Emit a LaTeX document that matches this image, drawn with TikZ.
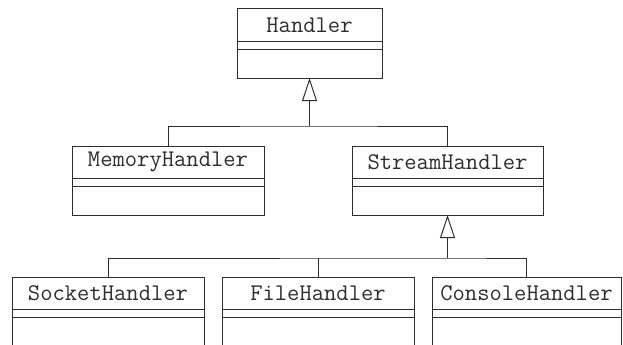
\documentclass[tikz,border=0pt]{standalone}
\usepackage{fontspec}
\usepackage{tikz}
\usetikzlibrary{arrows.meta,positioning}
\definecolor{umlline}{RGB}{45,45,45}

\begin{document}
\begin{tikzpicture}[x=0.03cm,y=-0.03cm,
  line width=0.85pt, draw=umlline,
  cname/.style={draw,anchor=north west,inner sep=0pt,outer sep=0pt,
    minimum height=0.96cm,font=\ttfamily\fontsize{20.4}{22}\selectfont,text=umlline},
  cattr/.style={draw,inner sep=0pt,outer sep=0pt,minimum height=0.24cm,below=0pt of #1},
  cops/.style={draw,inner sep=0pt,outer sep=0pt,minimum height=0.87cm,below=0pt of #1},
  inherit/.style={-{Triangle[open,length=0.69cm,width=0.45cm]}}]
\useasboundingbox (0,0) rectangle (623,345);
\clip (0,0) rectangle (623,345);
%% top
\node[cname,minimum width=4.35cm] (handler) at (237,9) {Handler};
\node[cattr=handler,minimum width=4.35cm] (handler-a) {};
\node[cops=handler-a,minimum width=4.35cm] (handler-o) {};
%% middle row
\node[cname,minimum width=5.76cm] (memory) at (72,146) {MemoryHandler};
\node[cattr=memory,minimum width=5.76cm] (memory-a) {};
\node[cops=memory-a,minimum width=5.76cm] (memory-o) {};
\node[cname,minimum width=5.73cm] (stream) at (352,146) {StreamHandler};
\node[cattr=stream,minimum width=5.73cm] (stream-a) {};
\node[cops=stream-a,minimum width=5.73cm] (stream-o) {};
%% bottom row
\node[cname,minimum width=5.76cm] (socket) at (12,277) {SocketHandler};
\node[cattr=socket,minimum width=5.76cm] (socket-a) {};
\node[cops=socket-a,minimum width=5.76cm] (socket-o) {};
\node[cname,minimum width=5.76cm] (file) at (222,277) {FileHandler};
\node[cattr=file,minimum width=5.76cm] (file-a) {};
\node[cops=file-a,minimum width=5.76cm] (file-o) {};
\node[cname,minimum width=5.67cm] (console) at (432,277) {ConsoleHandler};
\node[cattr=console,minimum width=5.67cm] (console-a) {};
\node[cops=console-a,minimum width=5.67cm] (console-o) {};
%% generalisation
\coordinate (lvl1) at (0,126);
\coordinate (lvl2) at (0,258);
\coordinate (j1) at (handler-o.south |- lvl1);
\coordinate (j2) at (stream-o.south |- lvl2);
\draw (memory.north) |- (j1) -| (stream.north);
\draw[inherit] (j1) -- (handler-o.south);
\draw (socket.north) |- (j2) -| (console.north);
\draw (file.north) -- (file.north |- j2);
\draw[inherit] (j2) -- (stream-o.south);
\end{tikzpicture}
\end{document}
